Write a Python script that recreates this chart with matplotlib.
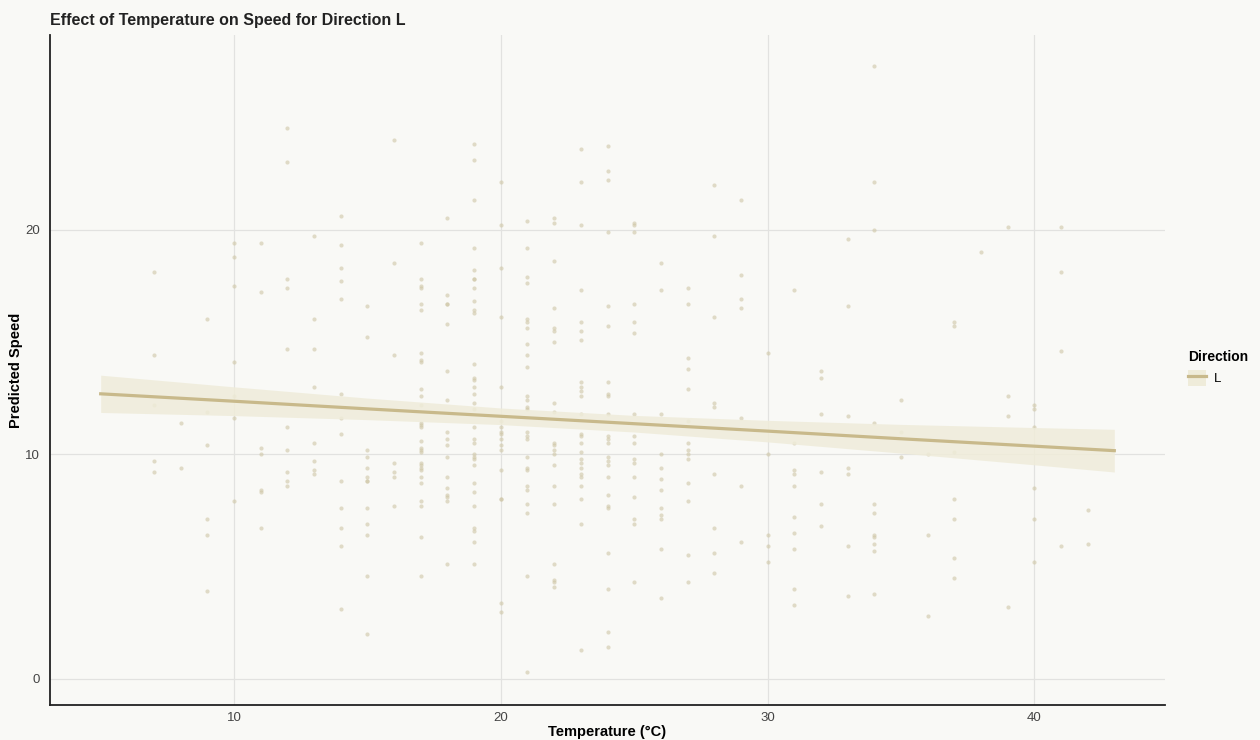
import matplotlib
matplotlib.use('Agg')
import matplotlib.pyplot as plt
from matplotlib.lines import Line2D
from matplotlib.patches import Patch
import numpy as np

plt.rcParams['font.family'] = ['Liberation Sans', 'DejaVu Sans']

speeds_by_temp = {
    7: [18.1, 14.4, 12.2, 9.7, 9.2],
    8: [11.4, 9.4],
    9: [16.0, 11.9, 10.4, 7.1, 6.4, 3.9],
    10: [19.4, 18.8, 17.5, 14.1, 12.6, 11.6, 7.9],
    11: [19.4, 17.2, 10.3, 10.0, 8.4, 8.3, 6.7],
    12: [24.5, 23.0, 17.8, 17.4, 14.7, 11.2, 10.2, 9.2, 8.8, 8.6],
    13: [19.7, 16.0, 14.7, 13.0, 10.5, 9.7, 9.3, 9.1],
    14: [20.6, 19.3, 18.3, 17.7, 16.9, 12.7, 11.6, 10.9, 8.8, 7.6, 6.7, 5.9, 3.1],
    15: [16.6, 15.2, 10.2, 9.9, 9.4, 9.0, 8.8, 8.8, 7.6, 6.9, 6.4, 4.6, 2.0],
    16: [24.0, 18.5, 14.4, 9.6, 9.2, 9.0, 7.7],
    17: [19.4, 17.8, 17.5, 17.4, 16.7, 16.4, 14.5, 14.2, 14.1, 12.9, 12.6, 12.2,
         11.4, 11.3, 11.2, 10.6, 10.3, 10.2, 10.1, 9.6, 9.5, 9.4, 9.3, 9.0, 8.7,
         7.9, 7.7, 6.3, 4.6],
    18: [20.5, 17.1, 16.7, 16.7, 15.8, 13.7, 12.4, 11.0, 10.7, 10.4, 9.9, 9.0,
         8.5, 8.2, 8.1, 7.9, 5.1],
    19: [23.8, 23.1, 21.3, 19.2, 18.2, 17.8, 17.8, 17.4, 16.8, 16.4, 16.3, 14.0,
         13.4, 13.3, 13.0, 12.7, 12.3, 12.0, 11.2, 10.7, 10.5, 10.0, 9.9, 9.8,
         9.5, 8.7, 8.3, 7.7, 6.7, 6.6, 6.1, 5.1],
    20: [22.1, 20.2, 18.3, 16.1, 13.0, 11.5, 11.2, 11.0, 10.9, 10.7, 10.4, 10.2,
         9.3, 8.0, 8.0, 3.4, 3.0],
    21: [20.4, 19.2, 17.9, 17.6, 16.0, 15.9, 15.6, 14.9, 14.4, 13.9, 12.6, 12.4,
         12.1, 12.0, 11.0, 10.8, 10.7, 9.9, 9.4, 9.3, 8.6, 8.4, 7.8, 7.4, 4.6, 0.3],
    22: [20.5, 20.3, 18.6, 16.5, 15.6, 15.5, 15.0, 12.3, 11.9, 10.5, 10.4, 10.2,
         10.0, 9.5, 8.6, 7.8, 5.1, 4.4, 4.3, 4.1],
    23: [23.6, 22.1, 20.2, 17.3, 15.9, 15.5, 15.1, 13.2, 13.0, 12.8, 12.6, 11.8,
         10.9, 10.8, 10.5, 10.1, 9.8, 9.6, 9.4, 9.1, 9.0, 8.6, 8.0, 6.9, 1.3],
    24: [23.7, 22.6, 22.2, 19.9, 16.6, 15.7, 13.2, 12.7, 12.6, 11.8, 10.8, 10.7,
         10.5, 9.9, 9.7, 9.5, 9.0, 8.2, 7.7, 7.6, 5.6, 4.0, 2.1, 1.4],
    25: [20.3, 20.2, 19.9, 16.7, 15.9, 15.4, 11.8, 10.8, 10.5, 9.8, 9.6, 9.0,
         8.1, 7.1, 6.9, 4.3],
    26: [18.5, 17.3, 11.8, 10.0, 9.4, 8.9, 8.4, 7.6, 7.3, 7.1, 5.8, 3.6],
    27: [17.4, 16.7, 14.3, 13.8, 12.9, 11.5, 10.5, 10.2, 10.0, 9.8, 8.7, 7.9, 5.5, 4.3],
    28: [22.0, 19.7, 16.1, 12.3, 12.1, 9.1, 6.7, 5.6, 4.7],
    29: [21.3, 18.0, 16.9, 16.5, 11.6, 8.6, 6.1],
    30: [14.5, 10.0, 6.4, 5.9, 5.2],
    31: [17.3, 10.5, 9.3, 9.1, 8.6, 7.2, 6.5, 5.8, 4.0, 3.3],
    32: [13.7, 13.4, 11.8, 9.2, 7.8, 6.8],
    33: [19.6, 16.6, 11.7, 9.4, 9.1, 5.9, 3.7],
    34: [27.3, 22.1, 20.0, 11.4, 7.8, 7.4, 6.4, 6.3, 6.0, 5.7, 3.8],
    35: [12.4, 11.0, 9.9],
    36: [10.0, 6.4, 2.8],
    37: [15.9, 15.7, 10.1, 8.0, 7.1, 5.4, 4.5],
    38: [19.0],
    39: [20.1, 12.6, 11.7, 3.2],
    40: [12.2, 12.0, 11.2, 8.5, 7.1, 5.2],
    41: [20.1, 18.1, 14.6, 5.9],
    42: [7.5, 6.0],
}

# linear fit with 95% band
fit_temp = [5, 10, 15, 20, 25, 30, 35, 40, 43]
fit_speed = [12.69, 12.36, 12.02, 11.69, 11.36, 11.03, 10.69, 10.36, 10.16]
fit_lower = [11.86, 11.72, 11.54, 11.32, 10.99, 10.55, 10.05, 9.53, 9.21]
fit_upper = [13.52, 13.00, 12.50, 12.06, 11.73, 11.51, 11.33, 11.19, 11.11]

temps = []
speeds = []
for t, vals in speeds_by_temp.items():
    temps += [t] * len(vals)
    speeds += vals

bg = '#F9F9F6'
line_col = '#C8B98B'
band_col = '#EFECDA'

fig = plt.figure(figsize=(12.6, 7.4), dpi=100, facecolor=bg)
ax = fig.add_axes([50/1260, 1-705/740, 1115/1260, 670/740], facecolor=bg)

ax.scatter(temps, speeds, s=9, color='#CFC6A6', alpha=0.6, linewidths=0, zorder=2)
ax.fill_between(fit_temp, fit_lower, fit_upper, color=band_col, alpha=0.85, linewidth=0, zorder=3)
ax.plot(fit_temp, fit_speed, color=line_col, lw=2.3, zorder=4)

ax.set_xlim(3.1, 44.9)
ax.set_ylim(-1.16, 28.66)
ax.set_xticks([10, 20, 30, 40])
ax.set_yticks([0, 10, 20])
ax.grid(True, color='#E2E2E0', lw=0.9, zorder=0)
ax.set_axisbelow(True)
ax.tick_params(length=0, labelsize=9.5, colors='#444444')
ax.tick_params(axis='x', pad=5)
ax.tick_params(axis='y', pad=7)

for side in ['top', 'right']:
    ax.spines[side].set_visible(False)
for side in ['left', 'bottom']:
    ax.spines[side].set_color('#222222')
    ax.spines[side].set_linewidth(1.3)

ax.set_xlabel('Temperature (°C)', fontsize=10.5, fontweight='bold', labelpad=1)
ax.set_ylabel('Predicted Speed', fontsize=10.5, fontweight='bold', labelpad=2)
fig.text(50/1260, 1-20/740, 'Effect of Temperature on Speed for Direction L',
         fontsize=11.5, fontweight='bold', color='#222222', va='center', ha='left')

handle = (Patch(facecolor=band_col, edgecolor='none'),
          Line2D([], [], color=line_col, lw=2.3))
leg = fig.legend([handle], ['L'], title='Direction', loc='upper left',
                 bbox_to_anchor=(1176/1260, 1-338/740), frameon=False,
                 fontsize=9.5, title_fontproperties={'weight': 'bold', 'size': 10},
                 handlelength=1.4, handleheight=1.4, handletextpad=0.6)
leg._legend_box.align = 'left'

fig.savefig('out.png', dpi=100, facecolor=bg)
